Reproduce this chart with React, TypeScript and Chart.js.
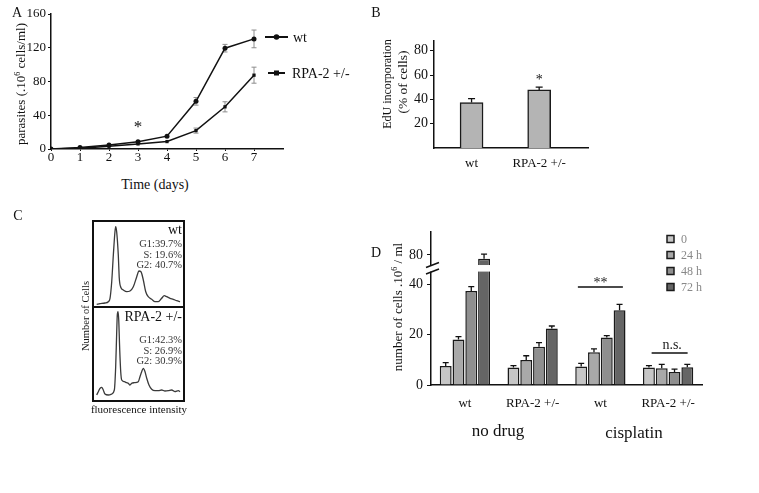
import React, { useEffect, useRef } from 'react';
import { Chart, registerables } from 'chart.js';

Chart.register(...registerables);

const SERIF = '"Liberation Serif", "Times New Roman", serif';
const INK = '#111111';

// ---------- Panel A: growth curves ----------
const days = [0, 1, 2, 3, 4, 5, 6, 7];
const wtGrowth = [0, 1.8, 4.6, 8.6, 15.2, 56.5, 119.5, 130.5];
const wtGrowthErr = [0, 0.5, 0.8, 1.0, 1.5, 4.5, 4.5, 10.5];
const rpaGrowth = [0, 0.8, 3.2, 6.0, 8.8, 21.8, 50.0, 87.5];
const rpaGrowthErr = [0, 0.3, 0.6, 0.8, 1.0, 3.0, 6.0, 9.5];
const growthYTicks = [0, 40, 80, 120, 160];
const growthLegend = ['wt', 'RPA-2 +/-'];

// ---------- Panel B: EdU incorporation ----------
const edUGroups = ['wt', 'RPA-2 +/-'];
const edUPositions = [1, 2.8];
const edUValues = [37.4, 47.8];
const edUErrors = [3.2, 2.2];
const edUYTicks = [20, 40, 60, 80];

// ---------- Panel C: cell-cycle histograms ----------
const fluorWt = [4.1, 7.8, 13.3, 17, 18.9, 20.8, 22.6, 24.4, 25.2, 26.3, 28.1, 29.2, 31.1, 33.7, 37.4, 41.1, 44.8, 48.6, 51.1, 53.3, 55.9, 58.6, 61.4, 65.2, 68.9, 72.6, 76.3, 79.2, 81.9, 85.6, 89.2, 93, 96.7];
const countWt = [2.7, 3.3, 4, 5.3, 8.7, 25.3, 52, 75.3, 80.3, 75.3, 52, 28.7, 19.3, 17, 15.3, 16, 20.3, 30.3, 36, 35.3, 27, 15.3, 10.3, 7.7, 5.3, 5.3, 8.7, 11.3, 10.3, 8.7, 7.7, 6.3, 5.3];
const fluorRpa = [4.1, 5.9, 7.8, 9.7, 11.4, 13.3, 17, 20.8, 23.7, 25.2, 26.3, 27, 27.8, 28.6, 29.7, 30.8, 31.9, 34.8, 37.4, 39.2, 41.1, 43, 45.9, 50.3, 52.2, 54.1, 55.9, 57.8, 59.7, 62.2, 65.2, 68.9, 72.6, 76.3, 80, 83.7, 87.4, 91.1, 94.8, 96.7];
const countRpa = [5, 8.3, 11.7, 12.7, 10, 6, 5, 6, 10, 33.3, 66.7, 85, 88.3, 80, 50, 28.3, 20, 18.3, 17.3, 16.7, 15, 16.7, 17.3, 18.3, 23.3, 28.3, 31.7, 28.3, 21.7, 15, 10.7, 9.3, 9.3, 10, 9, 9.3, 10, 8.3, 9.3, 8.3];
const phasesWt = ['G1:39.7%', 'S: 19.6%', 'G2: 40.7%'];
const phasesRpa = ['G1:42.3%', 'S: 26.9%', 'G2: 30.9%'];

// ---------- Panel D: cisplatin ----------
const dGroups = ['wt', 'RPA-2 +/-', 'wt', 'RPA-2 +/-'];
const dTimes = ['0', '24 h', '48 h', '72 h'];
const cells0h = [7.5, 6.9, 7.3, 6.9];
const cells24h = [18.1, 9.9, 13.0, 6.6];
const cells48h = [37.3, 15.2, 18.8, 5.2];
const cells72h = [77.0, 22.4, 29.7, 7.0];
const err0h = [1.4, 0.8, 1.3, 0.8];
const err24h = [1.1, 1.7, 1.3, 1.6];
const err48h = [1.7, 1.6, 0.8, 1.1];
const err72h = [3.6, 1.0, 2.3, 1.2];
const dYTicks = [0, 20, 40, 80];
const dColors = ['#c6c6c6', '#a9a9a9', '#8f8f8f', '#656565'];

// broken y axis of panel D: lower segment linear, upper segment compressed
const BREAK_LOW = 47;
const UPPER_AT_80 = 51.6;
const UPPER_SLOPE = 0.5;
const brokenY = (v: number) => (v <= BREAK_LOW ? v : UPPER_AT_80 + (v - 80) * UPPER_SLOPE);

const fontOf = (size: number) => ({ family: SERIF, size, lineHeight: 1 });
const noPad = (s: any) => { s.paddingTop = 0; s.paddingBottom = 0; s.paddingLeft = 0; s.paddingRight = 0; };

function configA(): any {
  const plugin = {
    id: 'aExtras',
    beforeDatasetsDraw(chart: any) {
      const { ctx, scales } = chart;
      const x = scales.x, y = scales.y;
      ctx.save();
      ctx.strokeStyle = '#8c8c8c';
      ctx.lineWidth = 1;
      [[wtGrowth, wtGrowthErr], [rpaGrowth, rpaGrowthErr]].forEach(([vals, errs]) => {
        days.forEach((d, i) => {
          const e = errs[i];
          if (e < 2) return;
          const px = x.getPixelForValue(d);
          const top = y.getPixelForValue(vals[i] + e);
          const bot = y.getPixelForValue(vals[i] - e);
          ctx.beginPath();
          ctx.moveTo(px, top); ctx.lineTo(px, bot);
          ctx.moveTo(px - 2.5, top); ctx.lineTo(px + 2.5, top);
          ctx.moveTo(px - 2.5, bot); ctx.lineTo(px + 2.5, bot);
          ctx.stroke();
        });
      });
      ctx.restore();
    },
    afterDraw(chart: any) {
      const { ctx, scales } = chart;
      ctx.save();
      ctx.fillStyle = INK;
      ctx.font = `17px ${SERIF}`;
      ctx.textAlign = 'center';
      ctx.textBaseline = 'alphabetic';
      ctx.fillText('*', scales.x.getPixelForValue(3), scales.y.getPixelForValue(31) + 9);
      const rows = [
        { y: 37, x0: 265, x1: 288, style: 'circle', tx: 293 },
        { y: 73, x0: 268, x1: 285, style: 'rect', tx: 292 },
      ];
      rows.forEach((r, i) => {
        ctx.strokeStyle = INK;
        ctx.lineWidth = 2;
        ctx.beginPath();
        ctx.moveTo(r.x0, r.y); ctx.lineTo(r.x1, r.y);
        ctx.stroke();
        const cx = (r.x0 + r.x1) / 2;
        ctx.fillStyle = INK;
        if (r.style === 'circle') {
          ctx.beginPath(); ctx.arc(cx, r.y, 2.8, 0, Math.PI * 2); ctx.fill();
        } else {
          ctx.fillRect(cx - 2.5, r.y - 2.5, 5, 5);
        }
        ctx.font = `14px ${SERIF}`;
        ctx.textAlign = 'left';
        ctx.textBaseline = 'middle';
        ctx.fillText(growthLegend[i], r.tx, r.y + 1);
      });
      ctx.restore();
    },
  };
  return {
    type: 'line',
    data: {
      datasets: [
        {
          label: growthLegend[0],
          data: days.map((d, i) => ({ x: d, y: wtGrowth[i] })),
          borderColor: INK, borderWidth: 1.5, tension: 0,
          pointStyle: 'circle', pointRadius: 2.5, pointBackgroundColor: INK, pointBorderColor: INK, pointBorderWidth: 0,
        },
        {
          label: growthLegend[1],
          data: days.map((d, i) => ({ x: d, y: rpaGrowth[i] })),
          borderColor: INK, borderWidth: 1.5, tension: 0,
          pointStyle: 'rect', pointRadius: 2.3, pointBackgroundColor: INK, pointBorderColor: INK, pointBorderWidth: 0,
        },
      ],
    },
    options: {
      responsive: false,
      animation: false,
      layout: { padding: { top: 14, right: 82, left: 0, bottom: 0 } },
      plugins: { legend: { display: false }, tooltip: { enabled: false } },
      scales: {
        x: {
          type: 'linear', min: 0, max: 8,
          afterBuildTicks: (s: any) => { s.ticks = days.map((v) => ({ value: v })); },
          afterFit: (s: any) => { s.height = 26; noPad(s); },
          grid: { drawOnChartArea: false, tickLength: 2, color: INK },
          border: { color: INK, width: 1.5 },
          ticks: { font: fontOf(13), color: INK, padding: 0, maxRotation: 0 },
        },
        y: {
          min: 0, max: 160,
          afterBuildTicks: (s: any) => { s.ticks = growthYTicks.map((v) => ({ value: v })); },
          afterFit: (s: any) => { s.width = 51; noPad(s); },
          grid: { drawOnChartArea: false, tickLength: 3, color: INK },
          border: { color: INK, width: 1.5 },
          ticks: { font: fontOf(13), color: INK, padding: 2 },
        },
      },
    },
    plugins: [plugin],
  };
}

function configB(): any {
  const plugin = {
    id: 'bExtras',
    afterDatasetsDraw(chart: any) {
      const { ctx, scales } = chart;
      const x = scales.x, y = scales.y;
      ctx.save();
      ctx.strokeStyle = INK;
      ctx.lineWidth = 1.3;
      edUPositions.forEach((p, i) => {
        const px = x.getPixelForValue(p);
        const top = y.getPixelForValue(edUValues[i] + edUErrors[i]);
        const base = y.getPixelForValue(edUValues[i]);
        ctx.beginPath();
        ctx.moveTo(px, base); ctx.lineTo(px, top);
        ctx.moveTo(px - 3.5, top); ctx.lineTo(px + 3.5, top);
        ctx.stroke();
      });
      ctx.fillStyle = INK;
      ctx.font = `14px ${SERIF}`;
      ctx.textAlign = 'center';
      ctx.textBaseline = 'alphabetic';
      const px = x.getPixelForValue(edUPositions[1]);
      ctx.fillText('*', px, y.getPixelForValue(edUValues[1] + edUErrors[1]) - 3);
      ctx.restore();
    },
  };
  return {
    type: 'bar',
    data: {
      datasets: [
        {
          data: edUPositions.map((p, i) => ({ x: p, y: edUValues[i] })),
          backgroundColor: '#b4b4b4', borderColor: '#1a1a1a', borderWidth: 1.5,
          barThickness: 23,
        },
      ],
    },
    options: {
      responsive: false,
      animation: false,
      layout: { padding: { top: 41, right: 12, left: 0, bottom: 0 } },
      plugins: { legend: { display: false }, tooltip: { enabled: false } },
      scales: {
        x: {
          type: 'linear', min: 0, max: 4.1, offset: false,
          afterBuildTicks: (s: any) => { s.ticks = edUPositions.map((v) => ({ value: v })); },
          afterFit: (s: any) => { s.height = 32; noPad(s); },
          grid: { display: false, drawTicks: false },
          border: { color: INK, width: 1.5 },
          ticks: { font: fontOf(13), color: INK, padding: 9, maxRotation: 0, callback: (_v: any, i: number) => edUGroups[i] },
        },
        y: {
          min: 0, max: 88,
          afterBuildTicks: (s: any) => { s.ticks = edUYTicks.map((v) => ({ value: v })); },
          afterFit: (s: any) => { s.width = 64; noPad(s); },
          grid: { drawOnChartArea: false, tickLength: 4, color: INK },
          border: { color: INK, width: 1.5 },
          ticks: { font: fontOf(14), color: INK, padding: 2 },
        },
      },
    },
    plugins: [plugin],
  };
}

function configC(ch: number[], cnt: number[], maxY: number): any {
  return {
    type: 'line',
    data: {
      datasets: [
        {
          data: ch.map((c, i) => ({ x: c, y: cnt[i] })),
          borderColor: '#3a3a3a', borderWidth: 1.3, pointRadius: 0,
          cubicInterpolationMode: 'monotone', fill: false,
        },
      ],
    },
    options: {
      responsive: false,
      animation: false,
      layout: { padding: 0 },
      plugins: { legend: { display: false }, tooltip: { enabled: false } },
      scales: {
        x: { type: 'linear', display: false, min: 0, max: 100 },
        y: { display: false, min: 0, max: maxY },
      },
    },
  };
}

function configD(): any {
  const series = [cells0h, cells24h, cells48h, cells72h];
  const errs = [err0h, err24h, err48h, err72h];
  const plugin = {
    id: 'dExtras',
    afterDatasetsDraw(chart: any) {
      const { ctx, scales, chartArea } = chart;
      const y = scales.y, x = scales.x;
      ctx.save();
      ctx.strokeStyle = INK;
      ctx.lineWidth = 1.3;
      series.forEach((vals, k) => {
        const meta = chart.getDatasetMeta(k);
        meta.data.forEach((el: any, i: number) => {
          const top = y.getPixelForValue(brokenY(vals[i] + errs[k][i]));
          const base = y.getPixelForValue(brokenY(vals[i]));
          ctx.beginPath();
          ctx.moveTo(el.x, base); ctx.lineTo(el.x, top);
          ctx.moveTo(el.x - 3, top); ctx.lineTo(el.x + 3, top);
          ctx.stroke();
        });
      });
      // axis break
      const bandTop = y.getPixelForValue(47.6);
      const bandBot = y.getPixelForValue(45.0);
      const tallBar = chart.getDatasetMeta(3).data[0];
      ctx.fillStyle = '#ffffff';
      ctx.fillRect(chartArea.left - 2, bandTop, tallBar.x + tallBar.width / 2 + 2 - (chartArea.left - 2), bandBot - bandTop);
      ctx.strokeStyle = INK;
      ctx.lineWidth = 1.5;
      [bandTop, bandBot].forEach((yy) => {
        ctx.beginPath();
        ctx.moveTo(chartArea.left - 5, yy + 2.5);
        ctx.lineTo(chartArea.left + 8, yy - 2.5);
        ctx.stroke();
      });
      // significance marks
      ctx.lineWidth = 1.5;
      const c2 = x.getPixelForValue(2);
      const c3 = x.getPixelForValue(3);
      const ySig = y.getPixelForValue(38.9);
      const yNs = y.getPixelForValue(12.7);
      ctx.beginPath();
      ctx.moveTo(c2 - 22.5, ySig); ctx.lineTo(c2 + 22.5, ySig);
      ctx.moveTo(c3 - 16.5, yNs); ctx.lineTo(c3 + 19.5, yNs);
      ctx.stroke();
      ctx.fillStyle = '#222';
      ctx.font = `14px ${SERIF}`;
      ctx.textAlign = 'center';
      ctx.textBaseline = 'alphabetic';
      ctx.fillText('**', c2, ySig + 0.5);
      ctx.fillText('n.s.', c3 + 4, yNs - 4);
      // legend
      const lx = 667 - 365;
      const ly = [239, 255, 271, 287].map((v) => v - 225);
      dTimes.forEach((t, k) => {
        ctx.fillStyle = dColors[k];
        ctx.fillRect(lx, ly[k] - 3.5, 7, 7);
        ctx.strokeStyle = '#1a1a1a';
        ctx.lineWidth = 1.5;
        ctx.strokeRect(lx, ly[k] - 3.5, 7, 7);
        ctx.fillStyle = '#888888';
        ctx.font = `12px ${SERIF}`;
        ctx.textAlign = 'left';
        ctx.textBaseline = 'middle';
        ctx.fillText(t, lx + 14, ly[k] + 1);
      });
      ctx.restore();
    },
  };
  return {
    type: 'bar',
    data: {
      labels: dGroups,
      datasets: series.map((vals, k) => ({
        label: dTimes[k],
        data: vals.map(brokenY),
        backgroundColor: dColors[k],
        borderColor: '#1a1a1a',
        borderWidth: 1.5,
        categoryPercentage: 0.755,
        barPercentage: 0.93,
      })),
    },
    options: {
      responsive: false,
      animation: false,
      layout: { padding: { top: 7, right: 57, left: 0, bottom: 0 } },
      plugins: { legend: { display: false }, tooltip: { enabled: false } },
      scales: {
        x: {
          afterFit: (s: any) => { s.height = 65; noPad(s); },
          grid: { display: false, drawTicks: false },
          border: { color: INK, width: 1.5 },
          ticks: { font: fontOf(13), color: INK, padding: 12, maxRotation: 0, autoSkip: false },
        },
        y: {
          min: 0, max: 60.7,
          afterBuildTicks: (s: any) => { s.ticks = dYTicks.map((v) => ({ value: brokenY(v) })); },
          afterFit: (s: any) => { s.width = 66; noPad(s); },
          grid: { drawOnChartArea: false, tickLength: 4, color: INK },
          border: { color: INK, width: 1.5 },
          ticks: { font: fontOf(14), color: INK, padding: 4, callback: (_v: any, i: number) => String(dYTicks[i]) },
        },
      },
    },
    plugins: [plugin],
  };
}

function ChartBox({ left, top, width, height, make }: { left: number; top: number; width: number; height: number; make: () => any }) {
  const ref = useRef<HTMLCanvasElement>(null);
  useEffect(() => {
    const chart = new Chart(ref.current as HTMLCanvasElement, make());
    return () => chart.destroy();
  }, []);
  return (
    <canvas
      ref={ref}
      width={width}
      height={height}
      style={{ position: 'absolute', left, top, width, height }}
    />
  );
}

type TP = { x: number; y: number; size?: number; anchor?: 'left' | 'center' | 'right'; rotate?: number; color?: string; children: React.ReactNode };
function T({ x, y, size = 13, anchor = 'center', rotate = 0, color = INK, children }: TP) {
  const tx = anchor === 'left' ? '0%' : anchor === 'right' ? '-100%' : '-50%';
  return (
    <div
      style={{
        position: 'absolute', left: x, top: y,
        transform: `translate(${tx},-50%)${rotate ? ` rotate(${rotate}deg)` : ''}`,
        fontFamily: SERIF, fontSize: size, lineHeight: 1, color, whiteSpace: 'nowrap',
      }}
    >
      {children}
    </div>
  );
}

const sup = { fontSize: '0.62em', verticalAlign: '0.55em', lineHeight: 0 } as React.CSSProperties;

export default function App() {
  return (
    <div style={{ position: 'absolute', left: 0, top: 0, width: 759, height: 493, background: '#fff', overflow: 'hidden' }}>
      {/* Panel A */}
      <ChartBox left={0} top={0} width={365} height={175} make={configA} />
      <T x={17} y={13} size={14}>A</T>
      <T x={20} y={84} size={13} rotate={-90}>parasites (.10<sup style={sup}>6</sup> cells/ml)</T>
      <T x={155} y={185} size={14}>Time (days)</T>

      {/* Panel B */}
      <ChartBox left={370} top={0} width={230} height={180} make={configB} />
      <T x={376} y={13} size={14}>B</T>
      <T x={387} y={84} size={12} rotate={-90}>EdU incorporation</T>
      <T x={403} y={82} size={13.5} rotate={-90}>(% of cells)</T>

      {/* Panel C */}
      <ChartBox left={93} top={221} width={90} height={86} make={() => configC(fluorWt, countWt, 86)} />
      <ChartBox left={93} top={307} width={90} height={93} make={() => configC(fluorRpa, countRpa, 93)} />
      <div style={{ position: 'absolute', left: 92, top: 220, width: 93, height: 182, border: '2px solid #111', boxSizing: 'border-box' }} />
      <div style={{ position: 'absolute', left: 92, top: 306, width: 93, height: 2, background: '#111' }} />
      <T x={18} y={216} size={14}>C</T>
      <T x={86} y={316} size={10.5} rotate={-90}>Number of Cells</T>
      <T x={139} y={409} size={11}>fluorescence intensity</T>
      <T x={182} y={230} size={14} anchor="right">wt</T>
      {phasesWt.map((p, i) => (
        <T key={p} x={182} y={244 + i * 10.5} size={10.5} anchor="right" color="#333">{p}</T>
      ))}
      <T x={182} y={317} size={14} anchor="right">RPA-2 +/-</T>
      {phasesRpa.map((p, i) => (
        <T key={p} x={182} y={340 + i * 10.5} size={10.5} anchor="right" color="#333">{p}</T>
      ))}

      {/* Panel D */}
      <ChartBox left={365} top={225} width={394} height={225} make={configD} />
      <T x={376} y={253} size={14}>D</T>
      <T x={397} y={307} size={13} rotate={-90}>number of cells .10<sup style={sup}>6</sup> / ml</T>
      <T x={498} y={430} size={17}>no drug</T>
      <T x={634} y={432} size={17}>cisplatin</T>
    </div>
  );
}
